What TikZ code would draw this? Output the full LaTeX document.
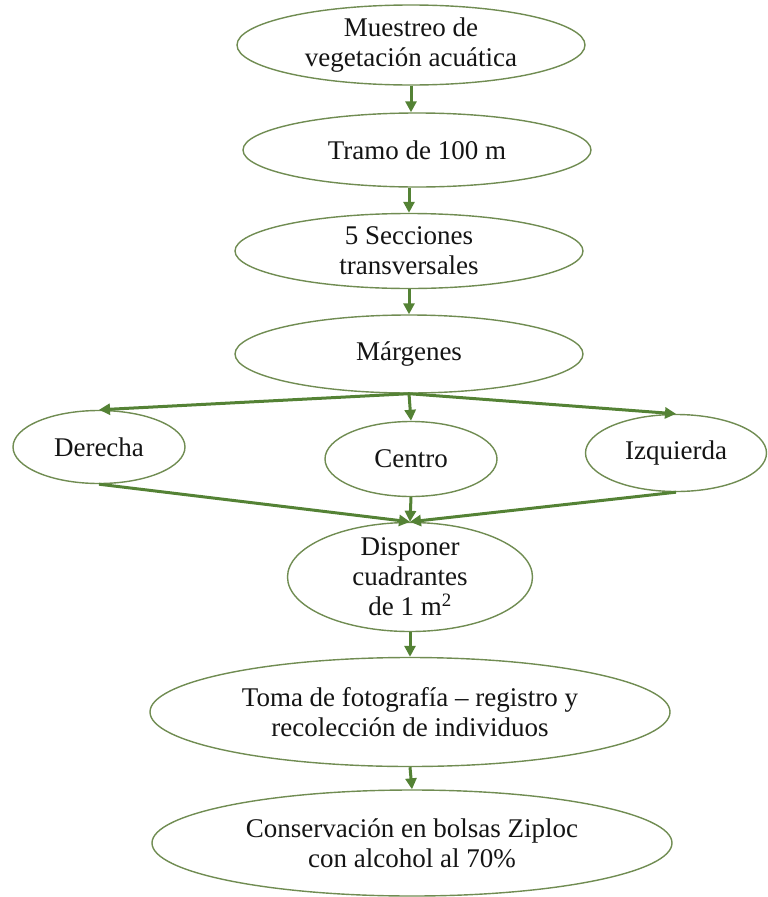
\documentclass[tikz,border=0pt]{standalone}
\usepackage{fontspec}
\setmainfont{Liberation Serif}
\usetikzlibrary{shapes.geometric,arrows.meta}
\definecolor{edgec}{RGB}{112,140,82}
\definecolor{arrowc}{RGB}{84,130,53}
\definecolor{txtc}{RGB}{20,20,20}
\begin{document}
\begin{tikzpicture}[x=1pt,y=-1pt,
  box/.style={ellipse, draw=edgec, line width=1.4pt, inner xsep=0pt, inner ysep=-12pt,
    align=center, text=txtc, font=\fontsize{27}{30}\selectfont},
  arr/.style={draw=arrowc, line width=3pt, -{Triangle[length=11pt,width=11pt]}}]
\useasboundingbox (0,0) rectangle (768,897);
\node[box, minimum width=348pt, minimum height=80pt] (n1) at (411,45) {Muestreo de\\vegetación acuática};
\node[box, minimum width=348pt, minimum height=74pt] (n2) at (417,150) {Tramo de 100 m};
\node[box, minimum width=348pt, minimum height=75pt] (n3) at (409,251) {5 Secciones\\transversales};
\node[box, minimum width=348pt, minimum height=78pt] (n4) at (409,354) {Márgenes};
\node[box, minimum width=172pt, minimum height=73pt] (der) at (99,447) {Derecha};
\node[box, minimum width=172pt, minimum height=75pt] (cen) at (411,459) {Centro};
\node[box, minimum width=181pt, minimum height=77pt] (izq) at (676,453) {Izquierda};
\node[box, minimum width=245pt, minimum height=109pt] (disp) at (410,577) {Disponer\\cuadrantes\\de 1 m\textsuperscript{2}};
\node[box, minimum width=520pt, minimum height=109pt] (toma) at (410,712) {Toma de fotografía – registro y\\recolección de individuos};
\node[box, minimum width=520pt, minimum height=106pt] (cons) at (412,843) {Conservación en bolsas Ziploc\\con alcohol al 70\%};
\draw[arr] (n1.south) -- (n1.south |- n2.north);
\draw[arr] (n3.north |- n2.south) -- (n3.north);
\draw[arr] (n3.south) -- (n4.north);
\draw[arr] (n4.south) -- (der.north);
\draw[arr] (n4.south) -- (cen.north);
\draw[arr] (n4.south) -- (izq.north);
\draw[arr] (der.south) -- (disp.north);
\draw[arr] (cen.south) -- (disp.north);
\draw[arr] (izq.south) -- (disp.north);
\draw[arr] (disp.south) -- (toma.north);
\draw[arr] (toma.south) -- (cons.north);
\end{tikzpicture}
\end{document}
